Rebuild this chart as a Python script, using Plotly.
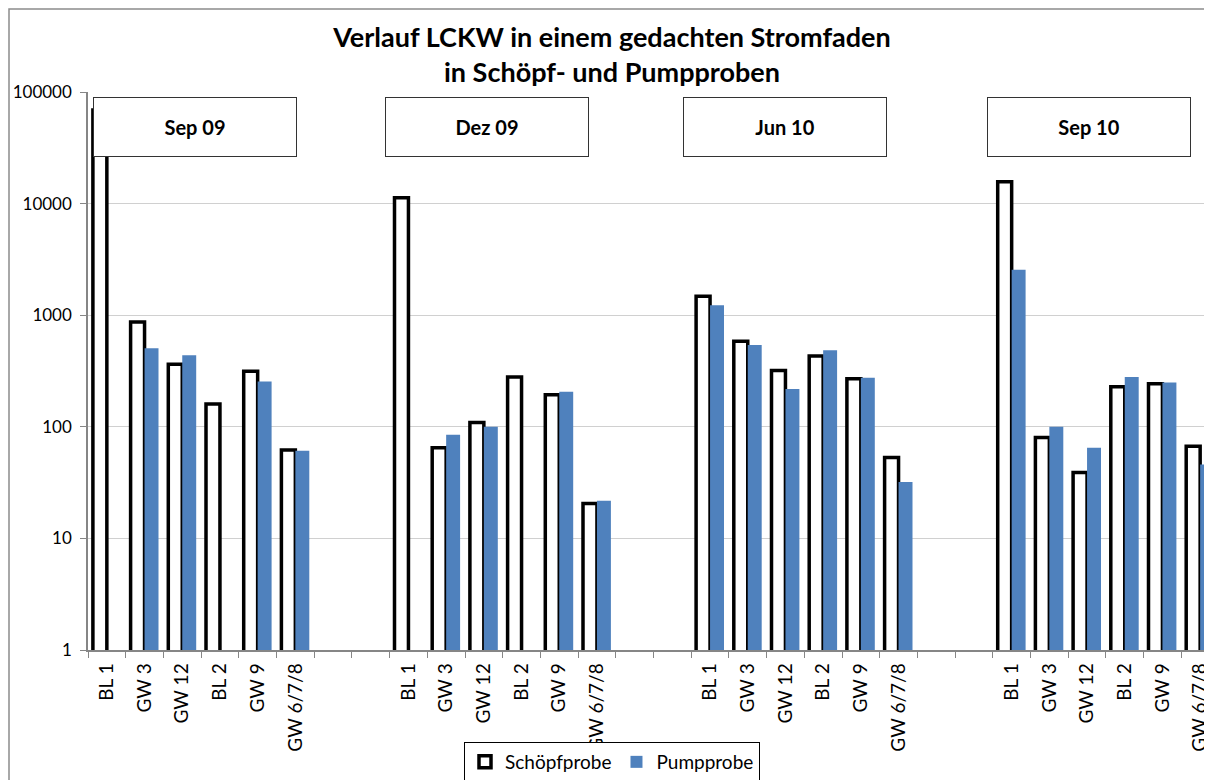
import plotly.graph_objects as go

groups = ["Sep 09", "Dez 09", "Jun 10", "Sep 10"]
stations = ["BL 1", "GW 3", "GW 12", "BL 2", "GW 9", "GW 6/7/8"]

schoepf = {
    "Sep 09": [69000, 870, 363, 160, 315, 62],
    "Dez 09": [11300, 65, 109, 280, 194, 20.5],
    "Jun 10": [1480, 585, 320, 430, 270, 53],
    "Sep 10": [15700, 80, 39, 228, 243, 67],
}
pump = {
    "Sep 09": [None, 505, 437, None, 255, 61],
    "Dez 09": [None, 85, 100, None, 206, 21.8],
    "Jun 10": [1230, 540, 218, 485, 275, 32],
    "Sep 10": [2550, 100, 65, 280, 250, 46],
}

# Build category ids (with two empty gap categories between groups)
ids, labels, ys, yp = [], [], [], []
for gi, g in enumerate(groups):
    for si, s in enumerate(stations):
        ids.append(f"{g}|{s}")
        labels.append(s)
        ys.append(schoepf[g][si])
        yp.append(pump[g][si])
    if gi < len(groups) - 1:
        for k in range(2):
            ids.append(f"gap{gi}_{k}")
            labels.append("")
            ys.append(None)
            yp.append(None)

FONT = "Lato, 'Open Sans', sans-serif"

fig = go.Figure()
fig.add_trace(go.Bar(
    x=ids, y=ys, name="Schöpfprobe",
    marker=dict(color="white", line=dict(color="black", width=3.5)),
))
fig.add_trace(go.Bar(
    x=ids, y=yp, name="Pumpprobe",
    marker=dict(color="#4F81BD", line=dict(width=0)),
))

# The page body has an 8px margin; figure pixel = screen pixel - 8
L, W = 88, 1124          # plot left and width (screen px)
TOP, BOT = 92, 650       # plot top / bottom (screen px)
H = BOT - TOP

# Group label boxes (centers in screen px -> paper coords)
box_centers_px = [195, 487, 785, 1088.5]
for g, cx in zip(groups, box_centers_px):
    fig.add_annotation(
        xref="paper", yref="paper",
        x=(cx - L) / W, y=(BOT - 127) / H,
        text=f"<b>{g}</b>", showarrow=False,
        font=dict(family=FONT, size=20, color="black"),
        width=202, height=58, borderpad=0,
        bordercolor="#333333", borderwidth=1, bgcolor="white",
        xanchor="center", yanchor="middle",
    )

# Chart-area border
fig.add_shape(
    type="rect", xref="paper", yref="paper",
    x0=(9 - L) / W, x1=(1240 - L) / W,
    y0=(BOT - 800) / H, y1=(BOT - 9) / H,
    line=dict(color="#8c8c8c", width=1.5), layer="below",
)

FW, FH = 1204, 772
fig.update_layout(
    width=FW, height=FH,
    margin=dict(l=L - 8, r=0, t=TOP - 8, b=FH - (BOT - 8), autoexpand=False),
    paper_bgcolor="white", plot_bgcolor="white",
    barmode="group", bargap=0.26, bargroupgap=0.0,
    title=dict(
        text="<b>Verlauf LCKW in einem gedachten Stromfaden<br>in Schöpf- und Pumpproben</b>",
        x=(612 - 8) / FW, xanchor="center", y=1 - (47 - 8) / FH, yanchor="middle",
        font=dict(family=FONT, size=27, color="black"),
    ),
    font=dict(family=FONT, size=17, color="black"),
    showlegend=True,
    legend=dict(
        orientation="h", x=(612 - L) / W, xanchor="center",
        y=(BOT - 742) / H, yanchor="top",
        bordercolor="black", borderwidth=1, bgcolor="white",
        font=dict(family=FONT, size=19, color="black"),
        itemwidth=30, tracegroupgap=0,
    ),
)

fig.update_yaxes(
    type="log", range=[0, 5],
    tickvals=[1, 10, 100, 1000, 10000, 100000],
    ticktext=["1", "10", "100", "1000", "10000", "100000"],
    showgrid=True, gridcolor="#D0D0D0", gridwidth=1,
    showline=True, linecolor="#868686", linewidth=1.5,
    ticks="outside", ticklen=6, tickcolor="#868686",
    ticklabelstandoff=5,
    tickfont=dict(family=FONT, size=17, color="black"),
    zeroline=False, automargin=False,
)
fig.update_xaxes(
    type="category", categoryorder="array", categoryarray=ids,
    tickmode="array", tickvals=ids, ticktext=labels,
    range=[-0.5, 29.5 - 7 / 37.7],
    tickangle=-90, tickson="boundaries",
    showline=True, linecolor="#868686", linewidth=1.5,
    ticks="outside", ticklen=6, tickcolor="#868686",
    ticklabelstandoff=4,
    tickfont=dict(family=FONT, size=19, color="black"),
    showgrid=False, automargin=False,
)

fig.write_html("out.html")
